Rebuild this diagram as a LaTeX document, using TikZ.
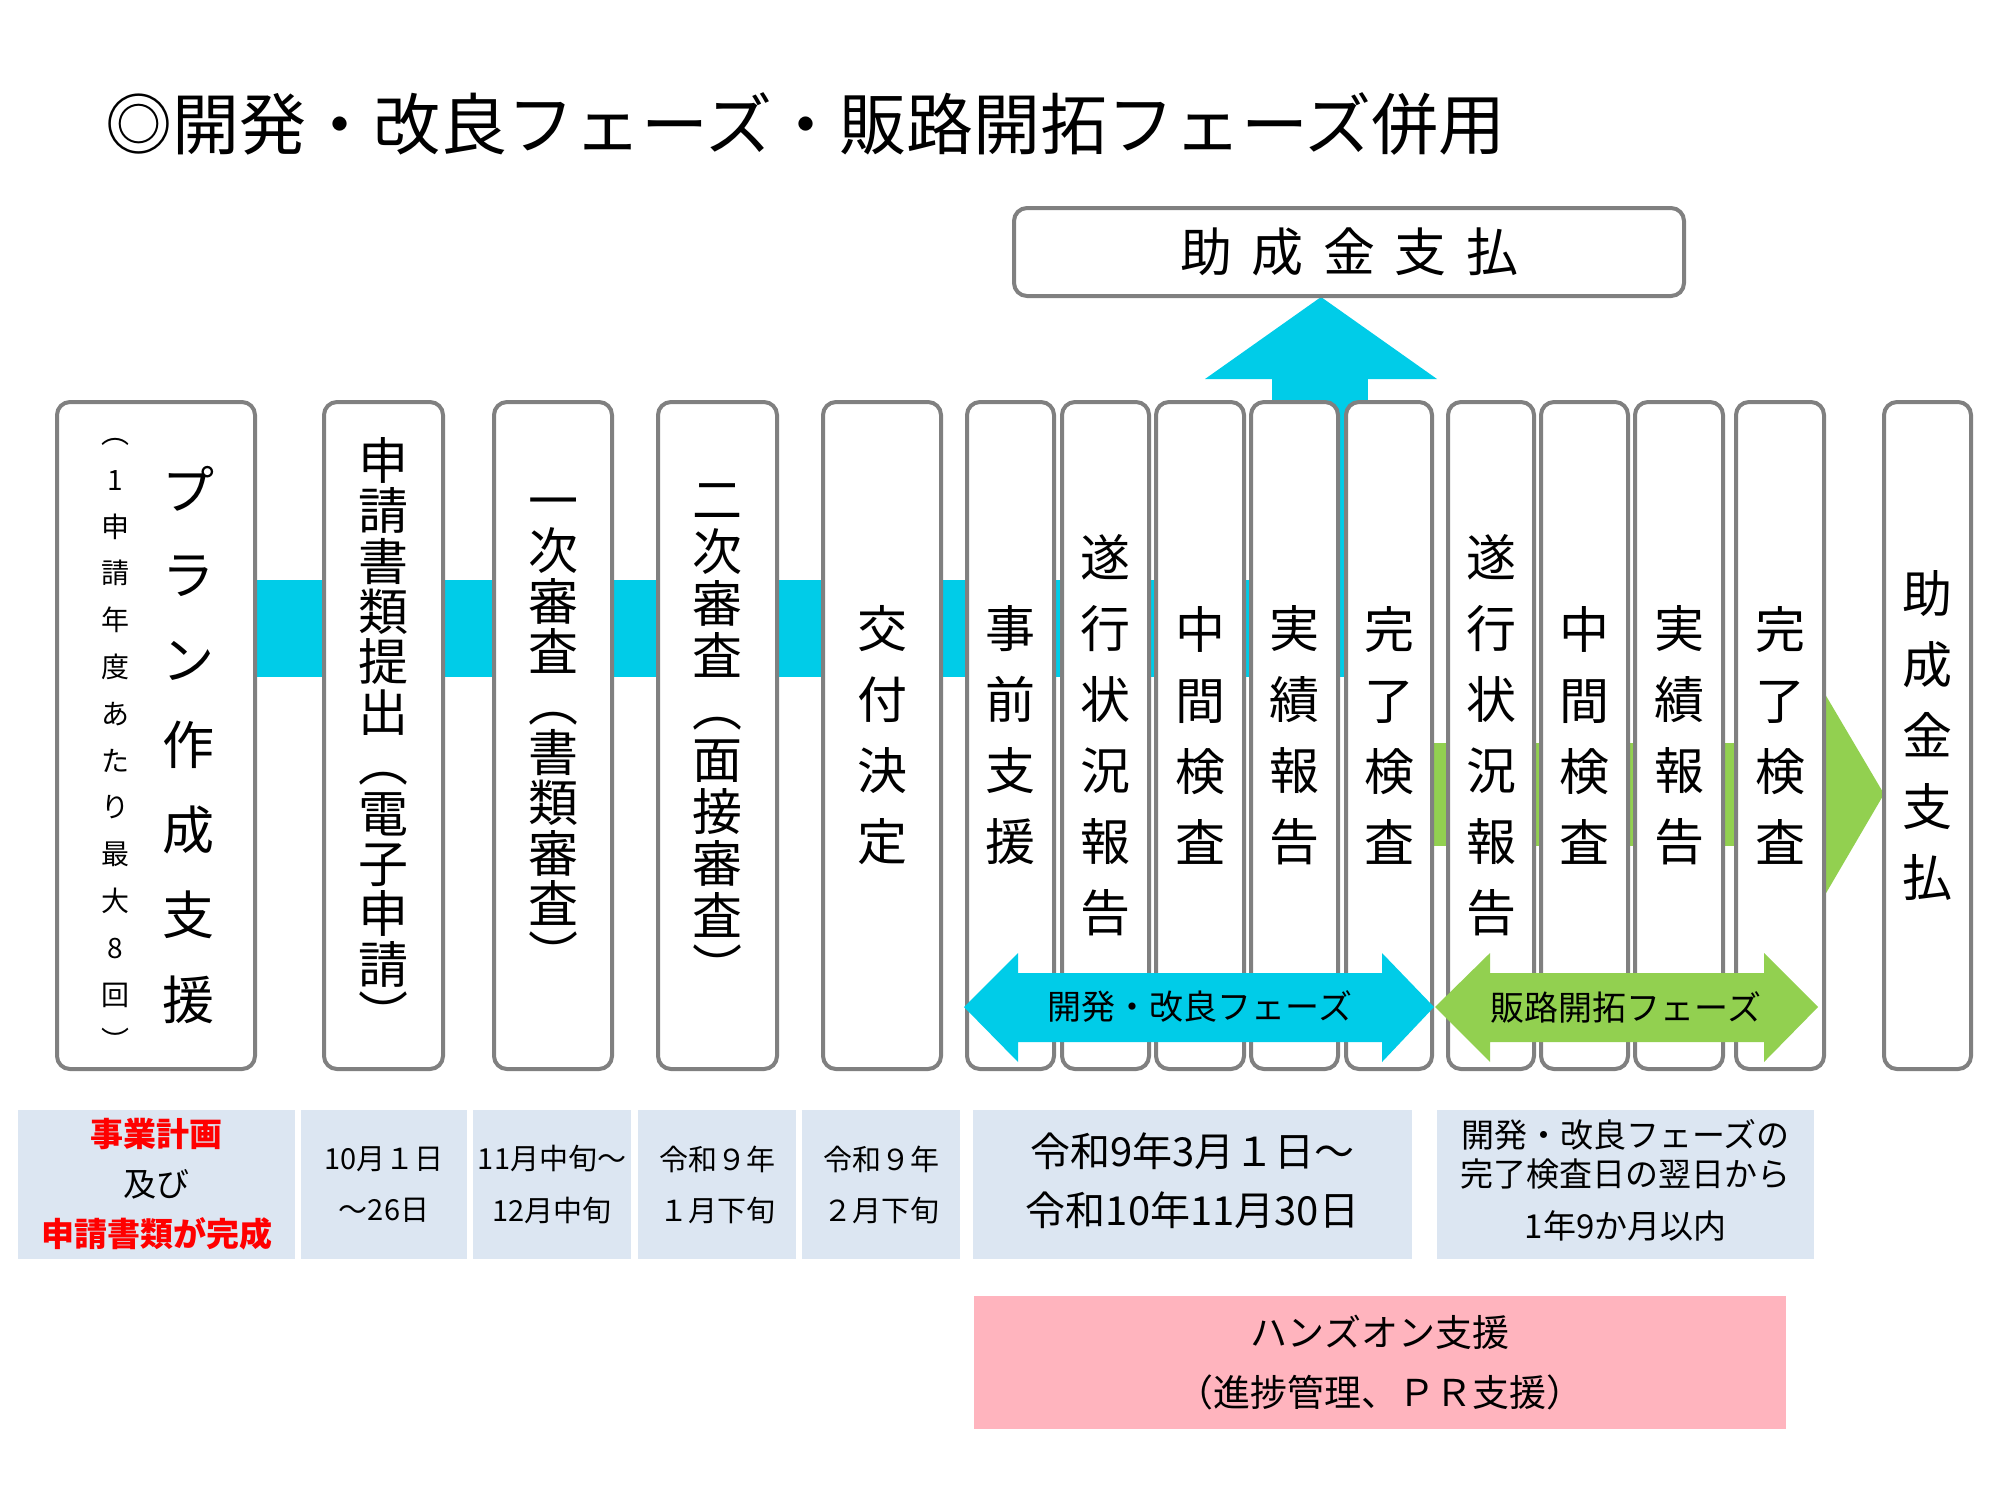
\documentclass[tikz,border=0pt]{standalone}
\usepackage{fontspec}
\setmainfont{Noto Sans CJK JP}
\definecolor{cyanband}{RGB}{0,204,232}
\definecolor{greenband}{RGB}{146,208,80}
\definecolor{boxgray}{RGB}{128,128,128}
\definecolor{infoblue}{RGB}{220,230,242}
\definecolor{pinkbox}{RGB}{255,180,190}
\definecolor{redtext}{RGB}{255,0,0}
\begin{document}
\begin{tikzpicture}[x=0.5pt,y=-0.5pt,
  stage/.style={draw=boxgray, line width=2pt, fill=white, rounded corners=6.5pt, minimum height=333.5pt, inner sep=0pt, align=center},
  tightv/.style={font={\fontsize{25}{25.2}\selectfont\lineskiplimit=-50pt}},
  loosev/.style={font={\fontsize{25}{35.5}\selectfont\lineskiplimit=-50pt}},
  info/.style={fill=infoblue, minimum height=74.5pt, inner sep=0pt, align=center},
  datetext/.style={font={\fontsize{14.5}{25.5}\selectfont}},
  phaselabel/.style={inner sep=0pt, font={\fontsize{17}{17}\selectfont}},
]
\fill[white] (0,0) rectangle (2000,1500);
\useasboundingbox (0,0) rectangle (2000,1500);

% title
\node[anchor=west, inner sep=0pt, font={\fontsize{33.5}{33.5}\selectfont}] (title) at (105,124) {◎開発・改良フェーズ・販路開拓フェーズ併用};

% cyan band with upward bend
\fill[cyanband] (200,580) rectangle (1368,677);
\fill[cyanband] (1272,379) rectangle (1368,677);
\fill[cyanband] (1205,379) -- (1321,297) -- (1437,379) -- cycle;
% green band arrow
\fill[greenband] (1400,743) rectangle (1826,846);
\fill[greenband] (1822,689) -- (1884,794) -- (1822,900) -- cycle;

% top payment box
\node[draw=boxgray, line width=2pt, fill=white, rounded corners=6.5pt, minimum width=335pt, minimum height=44pt, inner sep=0pt, font={\fontsize{26}{26}\selectfont}] (pay) at (1349,252) {\raisebox{1.5pt}{助\hspace{9.75pt}成\hspace{9.75pt}金\hspace{9.75pt}支\hspace{9.75pt}払}};

% stage boxes
\node[stage, minimum width=99pt] (b1) at (156,735.5) {};
\node[inner sep=0pt, align=center, font={\fontsize{14}{23.4}\selectfont\lineskiplimit=-50pt}] (b1note) at (115,745) {︵\\1\\申\\請\\年\\度\\あ\\た\\り\\最\\大\\8\\回\\︶};
\node[inner sep=0pt, align=center, font={\fontsize{26}{42.5}\selectfont\lineskiplimit=-50pt}] (b1text) at (188,745) {プ\\ラ\\ン\\作\\成\\支\\援};

\node[stage, tightv, minimum width=59.5pt] (b2) at (383.5,735.5) {申\\請\\書\\類\\提\\出\\︵\\電\\子\\申\\請\\︶};
\node[stage, tightv, minimum width=59pt] (b3) at (553,735.5) {一\\次\\審\\査\\︵\\書\\類\\審\\査\\︶};
\node[stage, minimum width=59.5pt, font={\fontsize{25}{26}\selectfont\lineskiplimit=-50pt}] (b4) at (717.5,735.5) {二\\次\\審\\査\\︵\\面\\接\\審\\査\\︶};
\node[stage, loosev, minimum width=59pt] (b5) at (882,735.5) {交\\付\\決\\定};
\node[stage, loosev, minimum width=43.5pt] (b6) at (1010.5,735.5) {事\\前\\支\\援};
\node[stage, loosev, minimum width=43.5pt] (b7) at (1105.5,735.5) {遂\\行\\状\\況\\報\\告};
\node[stage, loosev, minimum width=44pt] (b8) at (1200,735.5) {中\\間\\検\\査};
\node[stage, loosev, minimum width=43.5pt] (b9) at (1294.5,735.5) {実\\績\\報\\告};
\node[stage, loosev, minimum width=43pt] (b10) at (1389,735.5) {完\\了\\検\\査};
\node[stage, loosev, minimum width=43pt] (b11) at (1491,735.5) {遂\\行\\状\\況\\報\\告};
\node[stage, loosev, minimum width=43.5pt] (b12) at (1584.5,735.5) {中\\間\\検\\査};
\node[stage, loosev, minimum width=44pt] (b13) at (1679,735.5) {実\\績\\報\\告};
\node[stage, loosev, minimum width=44pt] (b14) at (1780,735.5) {完\\了\\検\\査};
\node[stage, loosev, minimum width=43.5pt] (b15) at (1927.5,735.5) {助\\成\\金\\支\\払};

% phase double arrows
\fill[cyanband] (964,1007) -- (1018,953) -- (1018,973) -- (1382,973) -- (1382,953) -- (1434,1007) -- (1382,1062) -- (1382,1042) -- (1018,1042) -- (1018,1062) -- cycle;
\node[phaselabel] (phase1) at (1200,1006) {開発・改良フェーズ};
\fill[greenband] (1435,1007) -- (1490,953) -- (1490,973) -- (1764,973) -- (1764,953) -- (1818,1007) -- (1764,1062) -- (1764,1042) -- (1490,1042) -- (1490,1062) -- cycle;
\node[phaselabel] (phase2) at (1626,1007) {販路開拓フェーズ};

% schedule boxes
\node[info, minimum width=138.5pt, font={\fontsize{16.5}{25}\selectfont}] (i1) at (156.5,1184.5) {{\bfseries\color{redtext}事業計画}\\及び\\{\bfseries\color{redtext}申請書類が完成}};
\node[info, datetext, minimum width=83pt] (i2) at (384,1184.5) {10月１日\\～26日};
\node[info, datetext, minimum width=79pt] (i3) at (552,1184.5) {11月中旬～\\12月中旬};
\node[info, datetext, minimum width=79pt] (i4) at (717,1184.5) {令和９年\\１月下旬};
\node[info, datetext, minimum width=79pt] (i5) at (881,1184.5) {令和９年\\２月下旬};
\node[info, minimum width=219.5pt, font={\fontsize{20}{29.5}\selectfont}] (i6) at (1192.5,1184.5) {\raisebox{3pt}{\begin{tabular}{@{}c@{}}令和9年3月１日～\\令和10年11月30日\end{tabular}}};
\node[info, minimum width=188.5pt, font={\fontsize{16.5}{18}\selectfont}] (i7) at (1625.5,1184.5) {\raisebox{3pt}{\begin{tabular}{@{}c@{}}開発・改良フェーズの\\完了検査日の翌日から\\[7pt]1年9か月以内\end{tabular}}};

% hands-on support
\node[fill=pinkbox, minimum width=406pt, minimum height=66.5pt, inner sep=0pt, align=center, font={\fontsize{18.5}{30}\selectfont}] (hands) at (1380,1362.5) {ハンズオン支援\\（進捗管理、ＰＲ支援）};
\end{tikzpicture}
\end{document}
